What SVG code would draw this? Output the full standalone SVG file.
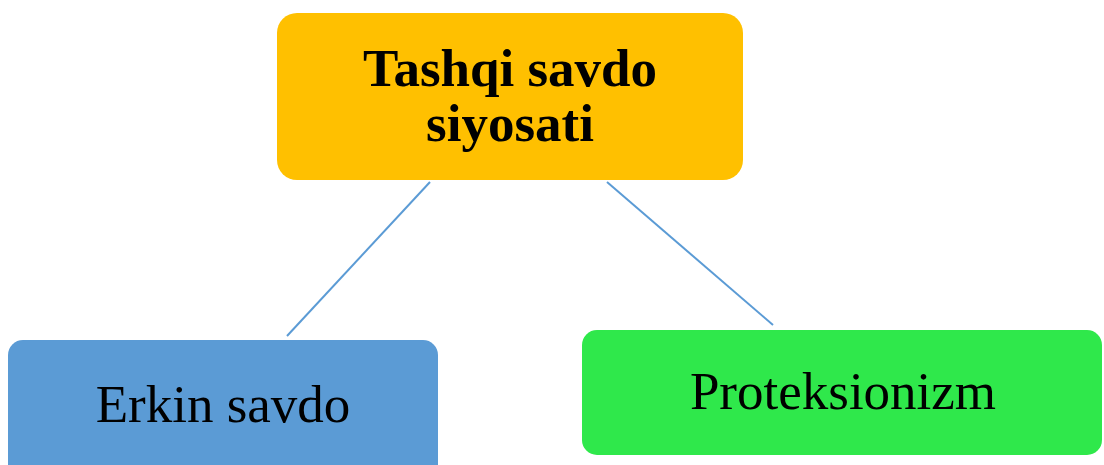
<svg xmlns="http://www.w3.org/2000/svg" width="1104" height="465" viewBox="0 0 1104 465">
<style>
.lbl{font-family:"Liberation Serif","Times New Roman",serif;font-size:53px;fill:#000;text-anchor:middle}
.b{font-weight:bold}
.conn line{stroke:#5B9BD5;stroke-width:2;fill:none}
</style>
<rect width="1104" height="465" fill="#fff"/>
<g id="connectors" class="conn">
<line x1="430" y1="182" x2="287" y2="336"/>
<line x1="607" y1="182" x2="773" y2="325"/>
</g>
<g id="node-top">
<rect x="277" y="13" width="466" height="167" rx="20" fill="#FFC000"/>
<text class="lbl b" x="510" y="86">Tashqi savdo</text>
<text class="lbl b" x="510" y="141">siyosati</text>
</g>
<g id="node-erkin">
<rect x="8" y="340" width="430" height="145" rx="15" fill="#5B9BD5"/>
<text class="lbl" x="223" y="422">Erkin savdo</text>
</g>
<g id="node-prot">
<rect x="582" y="330" width="520" height="125" rx="15" fill="#2FE84B"/>
<text class="lbl" x="843" y="409">Proteksionizm</text>
</g>
</svg>
